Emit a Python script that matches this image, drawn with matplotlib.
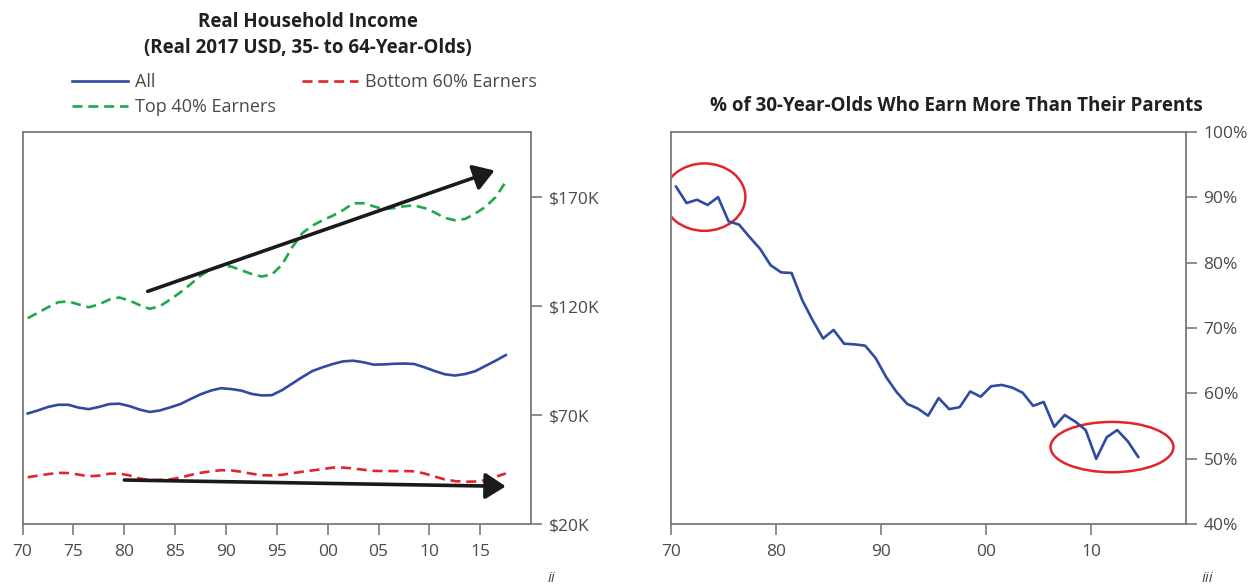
import matplotlib
matplotlib.use('Agg')
import matplotlib.pyplot as plt
from matplotlib.patches import Ellipse
import numpy as np

plt.rcParams['font.family'] = ['Open Sans', 'DejaVu Sans']

# Left chart: real household income, thousands of 2017 USD
years_inc = list(range(1970, 2018))
income_all = [70.8, 72.2, 73.8, 74.8, 74.8, 73.5, 72.8, 73.8, 75.1, 75.3,
              74.2, 72.6, 71.5, 72.2, 73.6, 75.1, 77.4, 79.6, 81.3, 82.4,
              82.0, 81.3, 79.8, 79.1, 79.2, 81.5, 84.5, 87.5, 90.3, 92.0,
              93.5, 94.7, 95.0, 94.3, 93.2, 93.3, 93.6, 93.7, 93.5, 92.0,
              90.3, 88.8, 88.2, 88.9, 90.2, 92.6, 95.0, 97.6]
income_top40 = [114.5, 117.0, 119.5, 121.8, 122.2, 120.8, 119.5, 120.8, 123.0, 124.0,
                122.6, 120.5, 118.8, 120.0, 123.0, 126.3, 130.0, 134.0, 137.0, 138.5,
                138.2, 136.5, 134.8, 133.6, 134.5, 139.0, 147.0, 153.5, 157.0, 159.4,
                161.5, 164.0, 167.2, 167.2, 165.8, 164.4, 165.0, 165.8, 166.2, 165.0,
                163.0, 160.5, 159.4, 160.0, 162.5, 165.5, 170.0, 177.0]
income_bottom60 = [41.6, 42.3, 43.0, 43.6, 43.5, 42.8, 42.0, 42.3, 43.2, 43.3,
                   42.4, 41.0, 40.3, 40.3, 40.6, 41.4, 42.6, 43.6, 44.3, 44.8,
                   44.7, 44.1, 43.2, 42.5, 42.4, 42.7, 43.4, 44.1, 44.7, 45.3,
                   46.0, 46.0, 45.6, 45.0, 44.5, 44.4, 44.4, 44.4, 44.3, 43.3,
                   41.9, 40.6, 39.8, 39.5, 39.6, 40.2, 41.8, 43.3]

# trend arrows (start, end) in (year, $K)
arrow_top = [(1982.3, 126.8), (2016.4, 182.2)]
arrow_bottom = [(1980.0, 40.3), (2017.5, 37.4)]

# Right chart: % of 30-year-olds earning more than their parents
years_mob = list(range(1970, 2015))
pct_more = [91.6, 89.1, 89.6, 88.8, 90.0, 86.3, 85.8, 83.9, 82.1, 79.6,
            78.5, 78.4, 74.3, 71.2, 68.4, 69.7, 67.6, 67.5, 67.3, 65.4,
            62.5, 60.2, 58.4, 57.7, 56.6, 59.3, 57.6, 57.9, 60.3, 59.5,
            61.1, 61.3, 60.9, 60.1, 58.1, 58.7, 54.9, 56.7, 55.7, 54.4,
            50.0, 53.3, 54.4, 52.7, 50.3]

# highlight ellipses: (center year, center %, width yrs, height %)
circles = [(1973.2, 90.0, 7.8, 10.3), (2012.0, 51.8, 11.7, 7.7)]

BLUE = '#2f4aa0'
GREEN = '#1fa84a'
RED = '#e3242b'
SPINE = '#7a7a7a'
TXT = '#4a4a4a'

fig = plt.figure(figsize=(12.55, 5.86), dpi=100)
ax1 = fig.add_axes([22.6 / 1255, 61.7 / 586, 508.6 / 1255, 392.6 / 586])
ax2 = fig.add_axes([670.8 / 1255, 61.7 / 586, 514.7 / 1255, 392.6 / 586])


def style(ax):
    for s in ax.spines.values():
        s.set_color(SPINE)
        s.set_linewidth(1.3)
    ax.yaxis.tick_right()
    ax.tick_params(axis='both', direction='out', length=8, width=1.2,
                   color=SPINE, labelsize=12.5, labelcolor=TXT)
    ax.tick_params(axis='y', pad=5)
    ax.tick_params(axis='x', pad=6)


x_inc = np.array(years_inc) + 0.5
dash = (0, (3.8, 2.2))
ax1.plot(x_inc, income_all, color=BLUE, lw=1.9, label='All')
ax1.plot(x_inc, income_top40, color=GREEN, lw=1.9, ls=dash, label='Top 40% Earners')
ax1.plot(x_inc, income_bottom60, color=RED, lw=1.9, ls=dash, label='Bottom 60% Earners')
ax1.set_xlim(1970, 2020)
ax1.set_ylim(20, 200)
ax1.set_xticks(range(1970, 2016, 5))
ax1.set_xticklabels([f'{y % 100:02d}' for y in range(1970, 2016, 5)])
ax1.set_yticks([20, 70, 120, 170])
ax1.set_yticklabels(['$20K', '$70K', '$120K', '$170K'])
style(ax1)

for (x0, y0), (x1, y1) in [arrow_top, arrow_bottom]:
    ax1.annotate('', xy=(x1, y1), xytext=(x0, y0),
                 arrowprops=dict(arrowstyle='-|>,head_length=1.25,head_width=0.8',
                                 lw=2.6, color='#1a1a1a', shrinkA=0, shrinkB=0))

ax1.legend(ncol=2, loc='lower left', bbox_to_anchor=(63 / 1255, 461 / 586),
           bbox_transform=fig.transFigure, frameon=False,
           handlelength=3.1, handletextpad=0.4, columnspacing=1.45,
           labelspacing=0.39, borderpad=0, labelcolor=TXT,
           prop={'size': 13})

fig.text(308 / 1255, 1 - 35 / 586, 'Real Household Income\n(Real 2017 USD, 35- to 64-Year-Olds)',
         ha='center', va='center', fontsize=13.5, fontweight='bold', color='#231f20',
         linespacing=1.45)

x_mob = np.array(years_mob) + 0.5
ax2.plot(x_mob, pct_more, color=BLUE, lw=1.9)
for cx, cy, w, h in circles:
    ax2.add_patch(Ellipse((cx, cy), w, h, fill=False, edgecolor=RED, lw=1.8))
ax2.set_xlim(1970, 2019)
ax2.set_ylim(40, 100)
ax2.set_xticks(range(1970, 2011, 10))
ax2.set_xticklabels([f'{y % 100:02d}' for y in range(1970, 2011, 10)])
ax2.set_yticks(range(40, 101, 10))
ax2.set_yticklabels([f'{v}%' for v in range(40, 101, 10)])
style(ax2)

fig.text(956 / 1255, 1 - 106 / 586, '% of 30-Year-Olds Who Earn More Than Their Parents',
         ha='center', va='center', fontsize=13.5, fontweight='bold', color='#231f20')

fig.text(551 / 1255, 1 - 578 / 586, 'ii', ha='center', va='center', fontsize=11,
         style='italic', color=TXT)
fig.text(1207 / 1255, 1 - 578 / 586, 'iii', ha='center', va='center', fontsize=11,
         style='italic', color=TXT)

fig.savefig('out.png', dpi=100)
